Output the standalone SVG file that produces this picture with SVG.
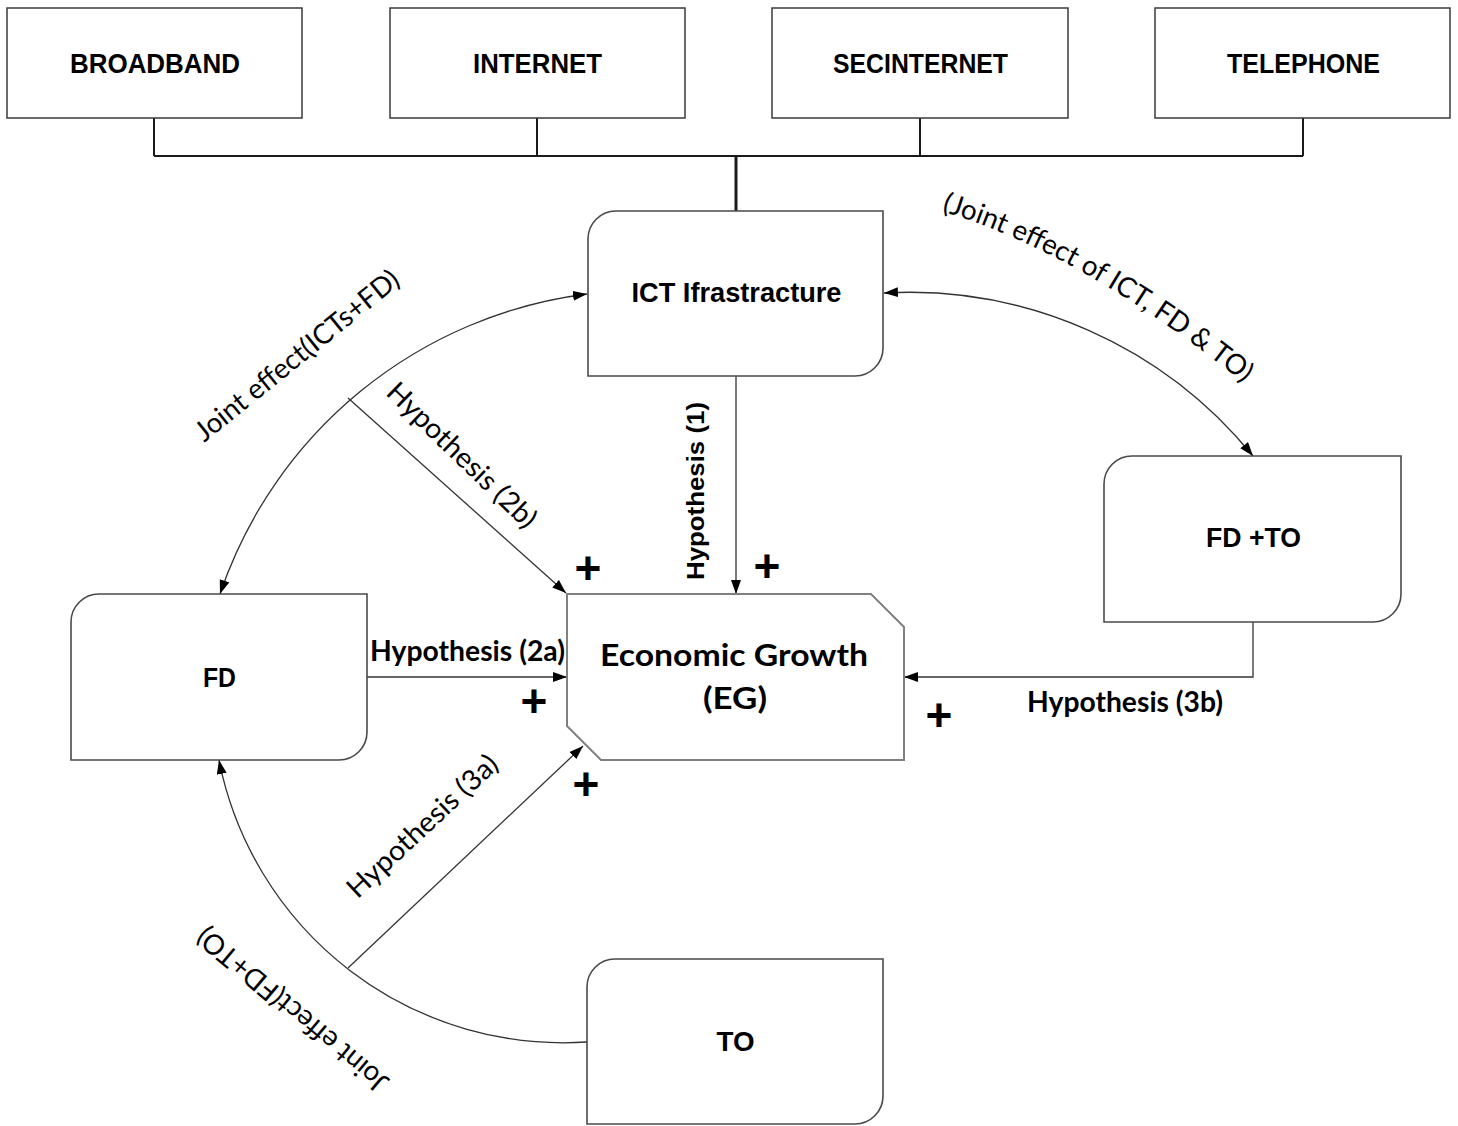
<svg xmlns="http://www.w3.org/2000/svg" width="1458" height="1126" viewBox="0 0 1458 1126">
<style>
  .bg{fill:#ffffff}
  .topbox{fill:#ffffff;stroke:#3a3a3a;stroke-width:1.5}
  .node{fill:#ffffff;stroke:#4a4a4a;stroke-width:1.6}
  .eg{fill:#ffffff;stroke:#808080;stroke-width:2}
  .bus{fill:none;stroke:#1a1a1a;stroke-width:2}
  .stem{fill:none;stroke:#1a1a1a;stroke-width:3}
  .conn{fill:none;stroke:#333333;stroke-width:1.3}
  .title{font-family:"Liberation Sans",Arial,sans-serif;font-weight:bold;font-size:27px;fill:#000;text-anchor:middle}
  .egt{font-family:Lato,"Liberation Sans",sans-serif;font-weight:bold;font-size:30px;fill:#000;text-anchor:middle}
  .hb{font-family:Lato,"Liberation Sans",sans-serif;font-weight:bold;font-size:28px;fill:#000;text-anchor:middle}
  .hr{font-family:Lato,"Liberation Sans",sans-serif;font-weight:normal;font-size:28px;fill:#000;text-anchor:middle}
  .h1{font-family:"Liberation Sans",Arial,sans-serif;font-weight:bold;font-size:23px;fill:#000;text-anchor:middle}
  .plus{font-family:"Liberation Sans",Arial,sans-serif;font-weight:bold;font-size:46px;fill:#000;text-anchor:middle;dominant-baseline:central}
</style>
<defs>
  <marker id="arr" viewBox="0 0 14 10" refX="14" refY="5" markerWidth="14" markerHeight="10" markerUnits="userSpaceOnUse" orient="auto-start-reverse">
    <path d="M0,0 L14,5 L0,10 Z" fill="#000"/>
  </marker>
  <path id="jpath" d="M914.7,202.8 L943.4,211.6 Q1084.8,254.9 1242.3,382 L1265.6,400.9"/>
</defs>
<rect class="bg" x="0" y="0" width="1458" height="1126"/>

<g id="connectors">
  <path class="bus" d="M154,118 V156 M537,118 V156 M920,118 V156 M1303,118 V156 M154,156 H1303"/>
  <path class="stem" d="M736,156 V211"/>
  <path class="conn" d="M736,376 V594" marker-end="url(#arr)"/>
  <path class="conn" d="M367,677 H567" marker-end="url(#arr)"/>
  <path class="conn" d="M1253,622 V677 H904" marker-end="url(#arr)"/>
  <path class="conn" d="M587,294 A447,447 0 0 0 220,594" marker-start="url(#arr)" marker-end="url(#arr)"/>
  <path class="conn" d="M884,293 A443,443 0 0 1 1253,456" marker-start="url(#arr)" marker-end="url(#arr)"/>
  <path class="conn" d="M587,1042 A351,351 0 0 1 219,760" marker-end="url(#arr)"/>
  <path class="conn" d="M348,398 L566,593" marker-end="url(#arr)"/>
  <path class="conn" d="M348,968 L583,746" marker-end="url(#arr)"/>
</g>

<g id="broadband">
  <rect class="topbox" x="7" y="8" width="295" height="110"/>
  <text class="title" x="155" y="73" textLength="170" lengthAdjust="spacingAndGlyphs">BROADBAND</text>
</g>
<g id="internet">
  <rect class="topbox" x="390" y="8" width="295" height="110"/>
  <text class="title" x="537.5" y="73" textLength="129" lengthAdjust="spacingAndGlyphs">INTERNET</text>
</g>
<g id="secinternet">
  <rect class="topbox" x="772" y="8" width="296" height="110"/>
  <text class="title" x="920.5" y="73" textLength="175" lengthAdjust="spacingAndGlyphs">SECINTERNET</text>
</g>
<g id="telephone">
  <rect class="topbox" x="1155" y="8" width="295" height="110"/>
  <text class="title" x="1303.5" y="73" textLength="153" lengthAdjust="spacingAndGlyphs">TELEPHONE</text>
</g>

<g id="ict">
  <path class="node" d="M616,211 H883 V348 A28,28 0 0 1 855,376 H588 V239 A28,28 0 0 1 616,211 Z"/>
  <text class="title" x="736.5" y="302" textLength="210" lengthAdjust="spacingAndGlyphs">ICT Ifrastracture</text>
</g>
<g id="fdto">
  <path class="node" d="M1132,456 H1401 V594 A28,28 0 0 1 1373,622 H1104 V484 A28,28 0 0 1 1132,456 Z"/>
  <text class="title" x="1253.5" y="547" textLength="95" lengthAdjust="spacingAndGlyphs">FD +TO</text>
</g>
<g id="fd">
  <path class="node" d="M99,594 H367 V732 A28,28 0 0 1 339,760 H71 V622 A28,28 0 0 1 99,594 Z"/>
  <text class="title" x="219.5" y="687" textLength="33" lengthAdjust="spacingAndGlyphs">FD</text>
</g>
<g id="to">
  <path class="node" d="M615,959 H883 V1096 A28,28 0 0 1 855,1124 H587 V987 A28,28 0 0 1 615,959 Z"/>
  <text class="title" x="735.5" y="1051" textLength="38" lengthAdjust="spacingAndGlyphs">TO</text>
</g>
<g id="eg">
  <path class="eg" d="M567,594 H871 L904,627 V760 H601 L567,726 Z"/>
  <text class="egt" x="734" y="666" textLength="268" lengthAdjust="spacingAndGlyphs">Economic Growth</text>
  <text class="egt" x="735" y="709" textLength="64" lengthAdjust="spacingAndGlyphs">(EG)</text>
</g>

<g id="labels">
  <text class="hr" transform="translate(298.5,357.5) rotate(-39)" x="0" y="7" textLength="254" lengthAdjust="spacingAndGlyphs">Joint effect(ICTs+FD)</text>
  <text class="hr" transform="translate(460,457) rotate(44)" x="0" y="7" textLength="196" lengthAdjust="spacingAndGlyphs">Hypothesis (2b)</text>
  <text class="h1" transform="translate(699,491) rotate(-90)" x="0" y="5" textLength="178" lengthAdjust="spacingAndGlyphs">Hypothesis (1)</text>
  <text class="hb" x="467.5" y="661" textLength="195" lengthAdjust="spacingAndGlyphs">Hypothesis (2a)</text>
  <text class="hb" x="1125" y="712" textLength="196" lengthAdjust="spacingAndGlyphs">Hypothesis (3b)</text>
  <text class="hr" transform="translate(424,828) rotate(-43)" x="0" y="7" textLength="195" lengthAdjust="spacingAndGlyphs">Hypothesis (3a)</text>
  <text class="hr" transform="translate(294,1008) rotate(-140)" x="0" y="7" textLength="240" lengthAdjust="spacingAndGlyphs">Joint effect(FD+TO)</text>
  <text class="hr"><textPath href="#jpath" startOffset="50%" textLength="350" lengthAdjust="spacingAndGlyphs">(Joint effect of ICT, FD &amp; TO)</textPath></text>
  <text class="plus" x="588" y="568">+</text>
  <text class="plus" x="767" y="566">+</text>
  <text class="plus" x="534" y="701">+</text>
  <text class="plus" x="939" y="715">+</text>
  <text class="plus" x="586" y="784">+</text>
</g>
</svg>
